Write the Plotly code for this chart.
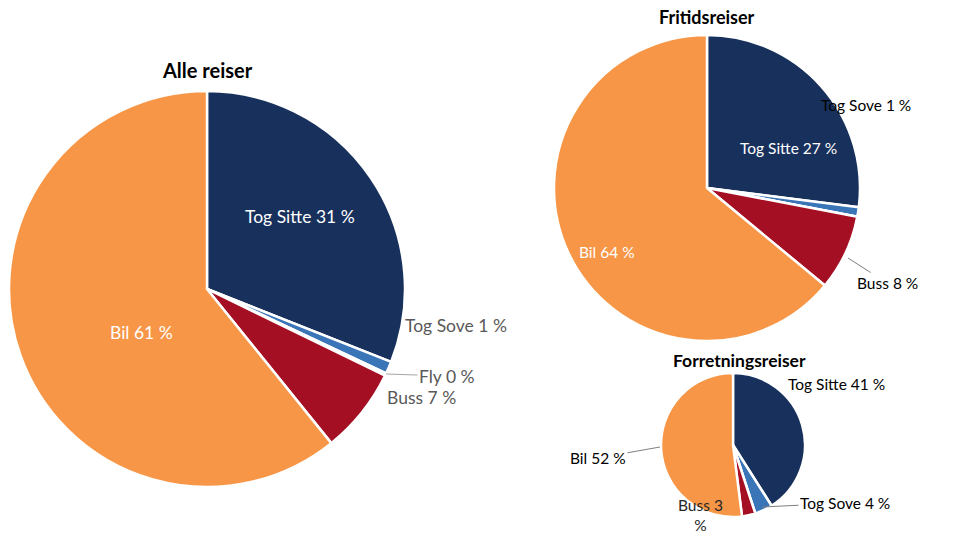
import plotly.graph_objects as go

categories = ["Tog Sitte", "Tog Sove", "Fly", "Buss", "Bil"]
colors = ["#17305c", "#3a75b8", "#7f7f7f", "#a50f23", "#f79646"]

alle_values = [31, 1, 0.2, 7, 60.8]
alle_pct = ["31 %", "1 %", "0 %", "7 %", "61 %"]

frit_values = [27, 1, 0, 8, 64]
frit_pct = ["27 %", "1 %", "0 %", "8 %", "64 %"]

forr_values = [41, 4, 0, 3, 52]
forr_pct = ["41 %", "4 %", "0 %", "3<br>%", "52 %"]

FONT = "Lato"
W, H = 960, 537


def px(x, y):
    return x / W, 1 - y / H


def dom(x0, x1, y0, y1):
    return dict(x=[x0 / W, x1 / W], y=[1 - y1 / H, 1 - y0 / H])


def make_pie(values, domain):
    return go.Pie(
        labels=categories, values=values, textinfo="none",
        sort=False, direction="clockwise", rotation=0,
        marker=dict(colors=colors, line=dict(color="white", width=2.5)),
        domain=domain, showlegend=False, hoverinfo="label+percent",
    )


fig = go.Figure()
fig.add_trace(make_pie(alle_values, dom(9, 405, 91, 487)))
fig.add_trace(make_pie(frit_values, dom(552, 862, 35, 341)))
fig.add_trace(make_pie(forr_values, dom(660, 806, 373, 517)))

# slice labels: (pie pct list, category index, text centre, colour, size, leader point)
labels = [
    (alle_pct, 0, (300, 216), "white", 17.5, None),
    (alle_pct, 4, (141, 332), "white", 17.5, None),
    (alle_pct, 1, (456, 325), "#595959", 17.5, None),
    (alle_pct, 2, (447, 376), "#595959", 17.5, (386, 374)),
    (alle_pct, 3, (421, 397), "#595959", 17.5, None),
    (frit_pct, 0, (788, 148), "white", 15.5, None),
    (frit_pct, 4, (607, 252), "white", 15.5, None),
    (frit_pct, 1, (866, 105), "black", 15.5, None),
    (frit_pct, 3, (887, 283), "black", 15.5, (848, 258)),
    (forr_pct, 0, (836, 384), "black", 15.5, None),
    (forr_pct, 4, (598, 458), "black", 15.5, (660, 447)),
    (forr_pct, 1, (845, 503), "black", 15.5, (762, 507)),
    (forr_pct, 3, (700, 515), "#262626", 15.5, None),
]
for pct, i, (tx, ty), col, size, lead in labels:
    text = f"{categories[i]} {pct[i]}"
    if lead is None:
        x, y = px(tx, ty)
        fig.add_annotation(text=text, x=x, y=y, xref="paper", yref="paper",
                           showarrow=False, xanchor="center", yanchor="middle",
                           font=dict(family=FONT, size=size, color=col))
    else:
        x, y = px(*lead)
        fig.add_annotation(text=text, x=x, y=y, xref="paper", yref="paper",
                           showarrow=True, ax=tx - lead[0], ay=ty - lead[1],
                           arrowhead=0, arrowwidth=1, standoff=0, startstandoff=0,
                           arrowcolor="#a6a6a6" if col != "black" else "#7f7f7f",
                           font=dict(family=FONT, size=size, color=col))

titles = [("Alle reiser", 207, 70, 20), ("Fritidsreiser", 707, 17, 18),
          ("Forretningsreiser", 739, 360, 17.5)]
for t, tx, ty, s in titles:
    x, y = px(tx, ty)
    fig.add_annotation(text=f"<b>{t}</b>", x=x, y=y, xref="paper", yref="paper",
                       showarrow=False, xanchor="center", yanchor="middle",
                       font=dict(family=FONT, size=s, color="black"))

fig.update_layout(width=W, height=H, margin=dict(l=0, r=0, t=0, b=0),
                  paper_bgcolor="white", font=dict(family=FONT))
fig.write_html(
    "out.html",
    post_script="document.body.style.margin='0';"
                "document.querySelectorAll('.svg-container').forEach(function(e){e.style.overflow='hidden';});",
    config={"displayModeBar": False},
)
